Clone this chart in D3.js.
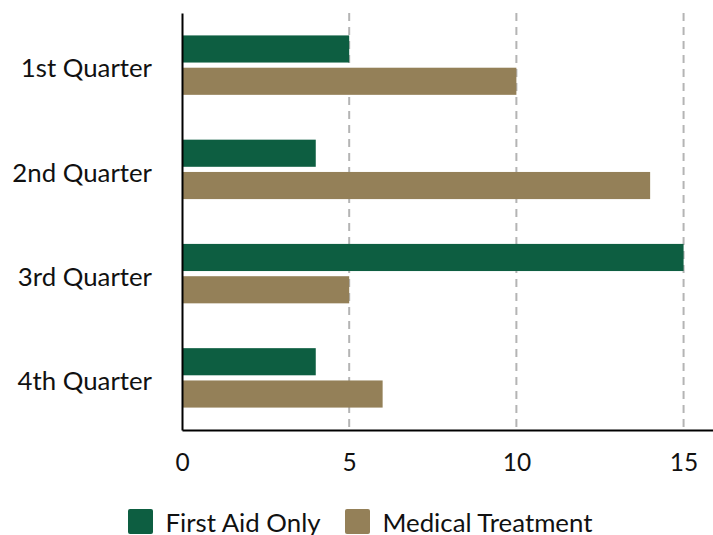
<!DOCTYPE html>
<html>
<head>
<meta charset="utf-8">
<script src="https://cdn.jsdelivr.net/npm/d3@7"></script>
<style>
  body { margin: 0; background: #fff; overflow: hidden; }
  svg { display: block; font-family: Lato, "Open Sans", sans-serif; }
</style>
</head>
<body>
<div id="chart"></div>
<script>
const quarters = ["1st Quarter", "2nd Quarter", "3rd Quarter", "4th Quarter"];
const seriesNames = ["First Aid Only", "Medical Treatment"];
const firstAid = [5, 4, 15, 4];
const medical = [10, 14, 5, 6];
const xTicks = [0, 5, 10, 15];
const colors = ["#0d5e41", "#948058"];

const width = 713, height = 535;
const margin = { top: 13, right: 0, bottom: 105, left: 182 };

const svg = d3.select("#chart").append("svg")
    .attr("width", width)
    .attr("height", height);

const x = d3.scaleLinear()
    .domain([0, 15.88])
    .range([margin.left, width]);

const y = d3.scaleBand()
    .domain(quarters)
    .range([margin.top, height - margin.bottom])
    .paddingInner(0.43)
    .paddingOuter(0.215);

const ySub = d3.scaleBand()
    .domain(seriesNames)
    .range([0, y.bandwidth()])
    .paddingInner(0.16);

const rows = quarters.map((q, i) => ({ q, values: [firstAid[i], medical[i]] }));

// dashed gridlines
svg.append("g")
    .selectAll("line")
    .data(xTicks.filter(d => d > 0))
    .enter()
    .append("line")
    .attr("x1", d => x(d))
    .attr("x2", d => x(d))
    .attr("y1", margin.top)
    .attr("y2", height - margin.bottom)
    .style("stroke", "#b4b4b4")
    .style("stroke-width", "2px")
    .style("stroke-dasharray", "8,6");

// bars
const group = svg.append("g")
    .selectAll("g")
    .data(rows)
    .enter()
    .append("g")
    .attr("transform", d => `translate(0,${y(d.q)})`);

group.selectAll("rect")
    .data(d => d.values.map((v, i) => ({ name: seriesNames[i], v, i })))
    .enter()
    .append("rect")
    .attr("x", x(0))
    .attr("y", d => ySub(d.name))
    .attr("width", d => x(d.v) - x(0))
    .attr("height", ySub.bandwidth())
    .style("fill", d => colors[d.i]);

// x axis
const xAxis = svg.append("g")
    .attr("transform", `translate(0,${height - margin.bottom})`)
    .call(d3.axisBottom(x).tickValues(xTicks).tickSize(0).tickPadding(23.5));
xAxis.select(".domain").style("stroke", "#000").style("stroke-width", "2px");
xAxis.selectAll("text")
    .style("font-size", "24.5px")
    .style("fill", "#111")
    .style("font-family", "Lato, sans-serif");

// y axis
const yAxis = svg.append("g")
    .attr("transform", `translate(${margin.left},0)`)
    .call(d3.axisLeft(y).tickSize(0).tickPadding(30));
yAxis.select(".domain").style("stroke", "#000").style("stroke-width", "2px");
yAxis.selectAll("text")
    .attr("dy", "0.47em")
    .style("font-size", "25.8px")
    .style("fill", "#111")
    .style("font-family", "Lato, sans-serif");

// legend
const legendX = [128, 345];
const legend = svg.append("g")
    .selectAll("g")
    .data(seriesNames)
    .enter()
    .append("g")
    .attr("transform", (d, i) => `translate(${legendX[i]},509)`);

legend.append("rect")
    .attr("width", 25)
    .attr("height", 25)
    .attr("rx", 2)
    .style("fill", (d, i) => colors[i]);

legend.append("text")
    .attr("x", 37.5)
    .attr("y", 23)
    .style("font-size", "25.8px")
    .style("fill", "#111")
    .text(d => d);
</script>
</body>
</html>
